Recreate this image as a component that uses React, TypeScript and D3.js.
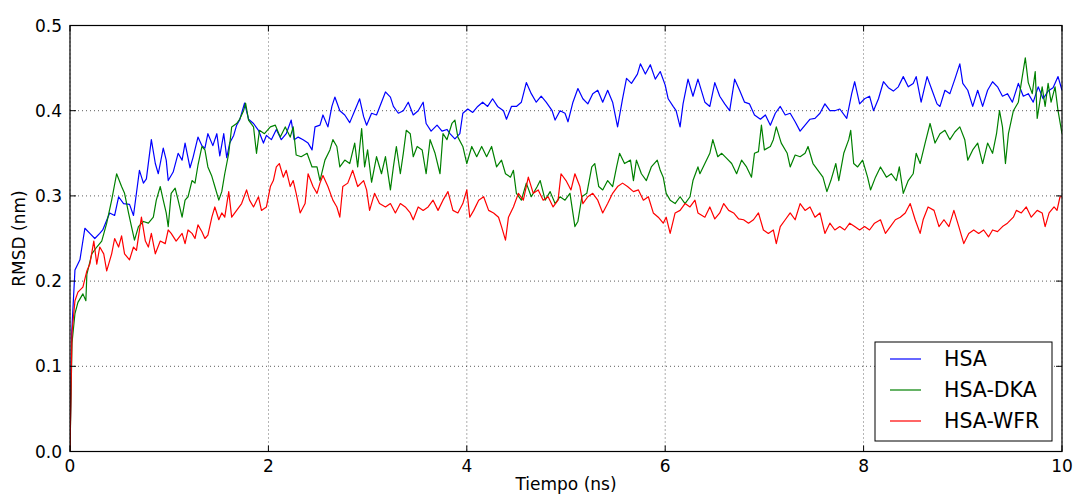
import React from 'react';
import * as d3 from 'd3';

// RMSD vs time: [time (ns), rmsd (nm)]
const hsaData: [number, number][] = [
  [0, 0.0], [0.017, 0.139], [0.05, 0.213], [0.1, 0.225], [0.15, 0.262], [0.2, 0.256], [0.25, 0.25], [0.3, 0.256], [0.33, 0.26],
  [0.4, 0.28], [0.45, 0.277], [0.49, 0.299], [0.54, 0.291], [0.6, 0.29], [0.64, 0.277], [0.7, 0.33], [0.74, 0.315], [0.77, 0.32],
  [0.82, 0.366], [0.86, 0.338], [0.89, 0.326], [0.94, 0.356], [0.97, 0.342], [0.99, 0.318], [1.04, 0.328], [1.09, 0.35], [1.13, 0.342],
  [1.16, 0.362], [1.21, 0.333], [1.24, 0.345], [1.29, 0.369], [1.33, 0.359], [1.36, 0.356], [1.39, 0.373], [1.44, 0.359], [1.48, 0.373],
  [1.51, 0.347], [1.55, 0.373], [1.58, 0.345], [1.61, 0.362], [1.65, 0.371], [1.68, 0.383], [1.71, 0.389], [1.76, 0.409], [1.8, 0.39],
  [1.85, 0.385], [1.9, 0.377], [1.95, 0.362], [1.98, 0.371], [2.03, 0.366], [2.08, 0.378], [2.13, 0.366], [2.18, 0.373], [2.23, 0.389],
  [2.26, 0.366], [2.3, 0.369], [2.35, 0.366], [2.4, 0.362], [2.44, 0.354], [2.47, 0.381], [2.52, 0.383], [2.55, 0.395], [2.6, 0.381],
  [2.64, 0.405], [2.67, 0.416], [2.72, 0.4], [2.77, 0.395], [2.82, 0.386], [2.87, 0.4], [2.92, 0.414], [2.96, 0.393], [2.99, 0.383],
  [3.04, 0.397], [3.09, 0.395], [3.14, 0.41], [3.18, 0.422], [3.23, 0.416], [3.26, 0.405], [3.31, 0.397], [3.36, 0.4], [3.41, 0.41],
  [3.46, 0.395], [3.51, 0.4], [3.56, 0.41], [3.59, 0.385], [3.64, 0.376], [3.7, 0.383], [3.75, 0.376], [3.8, 0.378], [3.83, 0.373],
  [3.88, 0.367], [3.93, 0.373], [3.96, 0.397], [4.01, 0.402], [4.06, 0.398], [4.11, 0.405], [4.16, 0.41], [4.21, 0.405], [4.26, 0.414],
  [4.31, 0.405], [4.37, 0.4], [4.4, 0.39], [4.45, 0.405], [4.5, 0.405], [4.55, 0.41], [4.6, 0.433], [4.65, 0.42], [4.7, 0.41],
  [4.75, 0.417], [4.8, 0.41], [4.86, 0.4], [4.89, 0.389], [4.94, 0.4], [4.99, 0.397], [5.02, 0.387], [5.07, 0.41], [5.12, 0.426],
  [5.17, 0.414], [5.22, 0.408], [5.27, 0.42], [5.32, 0.424], [5.37, 0.41], [5.42, 0.424], [5.47, 0.41], [5.52, 0.381], [5.57, 0.414],
  [5.61, 0.438], [5.66, 0.432], [5.72, 0.443], [5.75, 0.455], [5.8, 0.443], [5.85, 0.454], [5.9, 0.437], [5.95, 0.446], [6.0, 0.43],
  [6.03, 0.414], [6.08, 0.405], [6.11, 0.4], [6.15, 0.381], [6.18, 0.408], [6.23, 0.437], [6.28, 0.417], [6.33, 0.437], [6.4, 0.41],
  [6.45, 0.405], [6.5, 0.433], [6.55, 0.417], [6.6, 0.408], [6.65, 0.4], [6.7, 0.437], [6.75, 0.424], [6.8, 0.41], [6.85, 0.408],
  [6.9, 0.395], [6.96, 0.39], [7.01, 0.395], [7.06, 0.383], [7.11, 0.397], [7.16, 0.405], [7.21, 0.395], [7.26, 0.397], [7.31, 0.387],
  [7.36, 0.376], [7.41, 0.383], [7.46, 0.39], [7.51, 0.391], [7.56, 0.397], [7.61, 0.408], [7.66, 0.4], [7.71, 0.4], [7.76, 0.402],
  [7.83, 0.391], [7.88, 0.42], [7.91, 0.434], [7.96, 0.408], [8.01, 0.414], [8.06, 0.417], [8.1, 0.4], [8.15, 0.414], [8.2, 0.434],
  [8.25, 0.427], [8.3, 0.423], [8.35, 0.428], [8.4, 0.44], [8.45, 0.428], [8.5, 0.432], [8.53, 0.44], [8.58, 0.41], [8.64, 0.44],
  [8.69, 0.424], [8.74, 0.408], [8.77, 0.405], [8.82, 0.424], [8.87, 0.42], [8.92, 0.437], [8.97, 0.455], [9.0, 0.432], [9.05, 0.424],
  [9.1, 0.405], [9.15, 0.424], [9.2, 0.405], [9.25, 0.424], [9.3, 0.434], [9.35, 0.428], [9.4, 0.417], [9.45, 0.42], [9.5, 0.41],
  [9.56, 0.432], [9.61, 0.417], [9.66, 0.42], [9.71, 0.41], [9.76, 0.428], [9.81, 0.414], [9.86, 0.423], [9.91, 0.427], [9.96, 0.44],
  [10, 0.424],
];

const dkaData: [number, number][] = [
  [0, 0.0], [0.02, 0.127], [0.05, 0.162], [0.08, 0.175], [0.13, 0.185], [0.16, 0.177], [0.17, 0.208], [0.22, 0.232], [0.27, 0.24],
  [0.32, 0.247], [0.37, 0.268], [0.42, 0.295], [0.47, 0.326], [0.52, 0.311], [0.55, 0.303], [0.59, 0.28], [0.62, 0.264], [0.65, 0.248],
  [0.69, 0.264], [0.74, 0.27], [0.79, 0.268], [0.84, 0.275], [0.87, 0.295], [0.91, 0.311], [0.94, 0.295], [0.97, 0.28], [0.99, 0.264],
  [1.02, 0.303], [1.06, 0.309], [1.09, 0.295], [1.13, 0.275], [1.16, 0.295], [1.19, 0.299], [1.23, 0.318], [1.26, 0.315], [1.29, 0.336],
  [1.33, 0.358], [1.36, 0.354], [1.39, 0.334], [1.43, 0.323], [1.46, 0.311], [1.5, 0.295], [1.53, 0.305], [1.56, 0.326], [1.6, 0.35],
  [1.63, 0.381], [1.68, 0.385], [1.71, 0.39], [1.75, 0.4], [1.77, 0.409], [1.8, 0.389], [1.85, 0.381], [1.88, 0.35], [1.91, 0.377],
  [1.96, 0.373], [2.02, 0.381], [2.07, 0.383], [2.12, 0.369], [2.17, 0.381], [2.22, 0.369], [2.25, 0.381], [2.28, 0.348], [2.33, 0.346],
  [2.39, 0.35], [2.44, 0.334], [2.49, 0.334], [2.52, 0.318], [2.57, 0.342], [2.62, 0.354], [2.65, 0.366], [2.69, 0.358], [2.72, 0.334],
  [2.77, 0.342], [2.82, 0.338], [2.87, 0.362], [2.9, 0.334], [2.94, 0.379], [2.97, 0.334], [3.0, 0.354], [3.04, 0.316], [3.09, 0.346],
  [3.14, 0.326], [3.18, 0.346], [3.23, 0.307], [3.26, 0.334], [3.29, 0.358], [3.33, 0.326], [3.36, 0.35], [3.39, 0.377], [3.43, 0.373],
  [3.46, 0.346], [3.5, 0.358], [3.55, 0.354], [3.59, 0.326], [3.63, 0.366], [3.68, 0.35], [3.73, 0.326], [3.76, 0.373], [3.8, 0.366],
  [3.85, 0.385], [3.88, 0.389], [3.91, 0.369], [3.96, 0.358], [4.0, 0.338], [4.05, 0.358], [4.1, 0.346], [4.15, 0.358], [4.2, 0.346],
  [4.25, 0.358], [4.3, 0.334], [4.35, 0.342], [4.39, 0.326], [4.44, 0.322], [4.47, 0.33], [4.5, 0.303], [4.55, 0.295], [4.6, 0.315],
  [4.65, 0.299], [4.71, 0.311], [4.74, 0.318], [4.79, 0.295], [4.84, 0.305], [4.89, 0.291], [4.94, 0.299], [4.99, 0.295], [5.04, 0.303],
  [5.09, 0.264], [5.12, 0.27], [5.16, 0.299], [5.21, 0.303], [5.26, 0.334], [5.29, 0.338], [5.33, 0.311], [5.37, 0.307], [5.42, 0.318],
  [5.47, 0.311], [5.51, 0.334], [5.54, 0.35], [5.59, 0.338], [5.65, 0.342], [5.68, 0.318], [5.71, 0.342], [5.76, 0.326], [5.81, 0.318],
  [5.86, 0.334], [5.92, 0.342], [5.95, 0.33], [5.98, 0.322], [6.01, 0.303], [6.05, 0.295], [6.1, 0.291], [6.15, 0.299], [6.2, 0.291],
  [6.25, 0.299], [6.28, 0.318], [6.33, 0.334], [6.35, 0.326], [6.4, 0.338], [6.45, 0.35], [6.48, 0.366], [6.53, 0.346], [6.57, 0.35],
  [6.62, 0.344], [6.67, 0.338], [6.72, 0.326], [6.77, 0.342], [6.82, 0.334], [6.87, 0.322], [6.9, 0.35], [6.94, 0.352], [6.97, 0.383],
  [7.0, 0.354], [7.06, 0.358], [7.09, 0.366], [7.12, 0.381], [7.17, 0.362], [7.23, 0.35], [7.26, 0.334], [7.31, 0.348], [7.36, 0.346],
  [7.41, 0.35], [7.44, 0.358], [7.49, 0.338], [7.54, 0.33], [7.59, 0.322], [7.63, 0.305], [7.67, 0.318], [7.72, 0.338], [7.75, 0.318],
  [7.8, 0.35], [7.85, 0.366], [7.87, 0.377], [7.9, 0.338], [7.94, 0.334], [7.99, 0.342], [8.04, 0.322], [8.07, 0.307], [8.12, 0.322],
  [8.17, 0.334], [8.23, 0.322], [8.28, 0.326], [8.33, 0.318], [8.36, 0.334], [8.4, 0.303], [8.45, 0.318], [8.5, 0.326], [8.53, 0.35],
  [8.57, 0.338], [8.62, 0.362], [8.67, 0.385], [8.72, 0.362], [8.77, 0.373], [8.82, 0.377], [8.87, 0.366], [8.92, 0.375], [8.97, 0.381],
  [9.02, 0.366], [9.05, 0.342], [9.1, 0.354], [9.15, 0.362], [9.2, 0.338], [9.25, 0.362], [9.3, 0.35], [9.34, 0.373], [9.37, 0.4],
  [9.4, 0.381], [9.43, 0.338], [9.46, 0.373], [9.51, 0.4], [9.56, 0.41], [9.59, 0.433], [9.63, 0.462], [9.66, 0.433], [9.7, 0.42],
  [9.73, 0.446], [9.75, 0.391], [9.8, 0.428], [9.83, 0.405], [9.86, 0.432], [9.89, 0.41], [9.93, 0.428], [9.96, 0.4], [10, 0.373],
];

const wfrData: [number, number][] = [
  [0, 0.0], [0.02, 0.139], [0.05, 0.177], [0.08, 0.187], [0.13, 0.193], [0.17, 0.212], [0.2, 0.22], [0.24, 0.247], [0.27, 0.22],
  [0.3, 0.24], [0.34, 0.232], [0.37, 0.212], [0.42, 0.232], [0.45, 0.25], [0.49, 0.24], [0.52, 0.253], [0.55, 0.232], [0.6, 0.225],
  [0.64, 0.24], [0.67, 0.236], [0.72, 0.275], [0.76, 0.247], [0.79, 0.24], [0.82, 0.256], [0.86, 0.232], [0.91, 0.247], [0.96, 0.244],
  [0.99, 0.26], [1.02, 0.256], [1.07, 0.247], [1.13, 0.256], [1.16, 0.244], [1.19, 0.26], [1.23, 0.256], [1.26, 0.25], [1.29, 0.266],
  [1.33, 0.258], [1.36, 0.25], [1.39, 0.254], [1.43, 0.275], [1.46, 0.287], [1.5, 0.272], [1.53, 0.28], [1.56, 0.275], [1.6, 0.305],
  [1.63, 0.275], [1.68, 0.283], [1.73, 0.291], [1.78, 0.307], [1.81, 0.295], [1.85, 0.287], [1.9, 0.299], [1.93, 0.283], [1.98, 0.287],
  [2.02, 0.311], [2.05, 0.318], [2.08, 0.334], [2.11, 0.338], [2.15, 0.322], [2.18, 0.33], [2.22, 0.311], [2.25, 0.318], [2.28, 0.303],
  [2.32, 0.28], [2.37, 0.291], [2.4, 0.326], [2.45, 0.311], [2.49, 0.303], [2.52, 0.315], [2.55, 0.324], [2.6, 0.311], [2.65, 0.295],
  [2.69, 0.287], [2.72, 0.275], [2.75, 0.311], [2.8, 0.315], [2.85, 0.33], [2.9, 0.311], [2.96, 0.318], [2.99, 0.307], [3.02, 0.283],
  [3.07, 0.303], [3.12, 0.291], [3.18, 0.287], [3.23, 0.291], [3.28, 0.28], [3.33, 0.291], [3.38, 0.287], [3.43, 0.28], [3.46, 0.272],
  [3.51, 0.287], [3.56, 0.283], [3.61, 0.287], [3.66, 0.295], [3.71, 0.283], [3.76, 0.295], [3.81, 0.305], [3.86, 0.283], [3.91, 0.28],
  [3.96, 0.291], [4.0, 0.307], [4.03, 0.275], [4.07, 0.283], [4.12, 0.295], [4.17, 0.299], [4.22, 0.283], [4.27, 0.28], [4.32, 0.275],
  [4.35, 0.264], [4.39, 0.248], [4.42, 0.275], [4.47, 0.287], [4.52, 0.303], [4.57, 0.295], [4.62, 0.322], [4.67, 0.303], [4.72, 0.307],
  [4.77, 0.295], [4.82, 0.299], [4.87, 0.287], [4.92, 0.295], [4.95, 0.326], [5.0, 0.318], [5.05, 0.307], [5.09, 0.326], [5.14, 0.311],
  [5.17, 0.291], [5.22, 0.299], [5.27, 0.303], [5.32, 0.295], [5.37, 0.28], [5.42, 0.291], [5.47, 0.303], [5.52, 0.311], [5.57, 0.315],
  [5.62, 0.311], [5.68, 0.305], [5.73, 0.307], [5.78, 0.295], [5.83, 0.299], [5.88, 0.28], [5.93, 0.275], [5.98, 0.268], [6.01, 0.275],
  [6.05, 0.256], [6.1, 0.28], [6.15, 0.283], [6.2, 0.291], [6.25, 0.287], [6.3, 0.295], [6.33, 0.28], [6.4, 0.275], [6.45, 0.287],
  [6.5, 0.273], [6.55, 0.28], [6.59, 0.291], [6.64, 0.283], [6.69, 0.28], [6.74, 0.273], [6.79, 0.272], [6.84, 0.268], [6.89, 0.272],
  [6.94, 0.28], [6.99, 0.26], [7.04, 0.256], [7.09, 0.26], [7.12, 0.244], [7.16, 0.264], [7.21, 0.272], [7.26, 0.28], [7.31, 0.272],
  [7.36, 0.291], [7.41, 0.283], [7.46, 0.287], [7.51, 0.275], [7.56, 0.28], [7.61, 0.256], [7.66, 0.268], [7.71, 0.26], [7.76, 0.264],
  [7.81, 0.26], [7.86, 0.268], [7.91, 0.264], [7.96, 0.26], [8.01, 0.264], [8.06, 0.26], [8.11, 0.268], [8.17, 0.272], [8.22, 0.256],
  [8.27, 0.264], [8.32, 0.272], [8.37, 0.275], [8.42, 0.28], [8.47, 0.291], [8.52, 0.272], [8.57, 0.256], [8.6, 0.272], [8.65, 0.287],
  [8.71, 0.283], [8.76, 0.264], [8.81, 0.272], [8.86, 0.264], [8.91, 0.283], [8.96, 0.264], [9.01, 0.244], [9.06, 0.256], [9.11, 0.26],
  [9.16, 0.256], [9.21, 0.26], [9.26, 0.252], [9.3, 0.26], [9.35, 0.258], [9.4, 0.264], [9.45, 0.268], [9.51, 0.275], [9.54, 0.283],
  [9.59, 0.28], [9.64, 0.287], [9.69, 0.275], [9.75, 0.283], [9.8, 0.28], [9.83, 0.264], [9.87, 0.28], [9.92, 0.287], [9.95, 0.283],
  [9.98, 0.299], [10, 0.299],
];

const seriesNames = ['HSA', 'HSA-DKA', 'HSA-WFR'];
const seriesColors = ['#0000ff', '#008000', '#ff0000'];
const xTicks = [0, 2, 4, 6, 8, 10];
const yTicks = [0.0, 0.1, 0.2, 0.3, 0.4, 0.5];

const App = () => {
  const width = 1074;
  const height = 495;
  const margin = { top: 25.5, right: 12, bottom: 43.5, left: 70 };
  const innerWidth = width - margin.left - margin.right;
  const innerHeight = height - margin.top - margin.bottom;
  const font = 'DejaVu Sans, sans-serif';

  const x = d3.scaleLinear().domain([0, 10]).range([0, innerWidth]);
  const y = d3.scaleLinear().domain([0, 0.5]).range([innerHeight, 0]);

  const line = d3
    .line<[number, number]>()
    .x((d) => x(d[0]))
    .y((d) => y(d[1]));

  const allSeries = [hsaData, dkaData, wfrData];
  const tickLen = 6;

  // legend box (axes coords)
  const legend = { x: 805, y: 316.5, w: 177, h: 99, rowH: 31 };

  return (
    <svg
      width={width}
      height={height}
      style={{ position: 'absolute', left: 0, top: 0, background: '#fff' }}
      fontFamily={font}
    >
      <rect width={width} height={height} fill="#fff" />
      <g transform={`translate(${margin.left},${margin.top})`}>
        {/* grid */}
        {xTicks.map((t) => (
          <line key={`gx${t}`} x1={x(t)} x2={x(t)} y1={0} y2={innerHeight}
            stroke="#000" strokeWidth={0.8} strokeDasharray="1,3" opacity={0.8} />
        ))}
        {yTicks.map((t) => (
          <line key={`gy${t}`} x1={0} x2={innerWidth} y1={y(t)} y2={y(t)}
            stroke="#000" strokeWidth={0.8} strokeDasharray="1,3" opacity={0.8} />
        ))}

        {/* series */}
        <defs>
          <clipPath id="plotClip">
            <rect x={0} y={0} width={innerWidth} height={innerHeight} />
          </clipPath>
        </defs>
        <g clipPath="url(#plotClip)">
          {allSeries.map((s, i) => (
            <path key={seriesNames[i]} d={line(s) ?? ''} fill="none"
              stroke={seriesColors[i]} strokeWidth={1.2} strokeLinejoin="round" />
          ))}
        </g>

        {/* ticks (inward, all sides) */}
        {xTicks.map((t) => (
          <g key={`tx${t}`}>
            <line x1={x(t)} x2={x(t)} y1={innerHeight} y2={innerHeight - tickLen} stroke="#000" />
            <line x1={x(t)} x2={x(t)} y1={0} y2={tickLen} stroke="#000" />
            <text x={x(t)} y={innerHeight + 20} textAnchor="middle" fontSize={17} fill="#000">
              {d3.format('d')(t)}
            </text>
          </g>
        ))}
        {yTicks.map((t) => (
          <g key={`ty${t}`}>
            <line x1={0} x2={tickLen} y1={y(t)} y2={y(t)} stroke="#000" />
            <line x1={innerWidth} x2={innerWidth - tickLen} y1={y(t)} y2={y(t)} stroke="#000" />
            <text x={-8} y={y(t)} dy="0.36em" textAnchor="end" fontSize={17} fill="#000">
              {d3.format('.1f')(t)}
            </text>
          </g>
        ))}

        {/* frame */}
        <rect x={0} y={0} width={innerWidth} height={innerHeight} fill="none" stroke="#000" strokeWidth={1.2} />

        {/* legend */}
        <g transform={`translate(${legend.x},${legend.y})`}>
          <rect x={0} y={0} width={legend.w} height={legend.h} fill="#fff" stroke="#000" strokeWidth={1} />
          {seriesNames.map((name, i) => {
            const cy = 17 + i * legend.rowH;
            return (
              <g key={name}>
                <line x1={15} x2={46} y1={cy} y2={cy} stroke={seriesColors[i]} strokeWidth={1.2} />
                <text x={69} y={cy} dy="0.36em" fontSize={20.5} fill="#000">{name}</text>
              </g>
            );
          })}
        </g>
      </g>

      {/* axis labels */}
      <text x={margin.left + innerWidth / 2} y={490} textAnchor="middle" fontSize={17} fill="#000">
        Tiempo (ns)
      </text>
      <text transform={`translate(25,${margin.top + innerHeight / 2}) rotate(-90)`} textAnchor="middle"
        fontSize={17} fill="#000">
        RMSD (nm)
      </text>
    </svg>
  );
};

export default App;
